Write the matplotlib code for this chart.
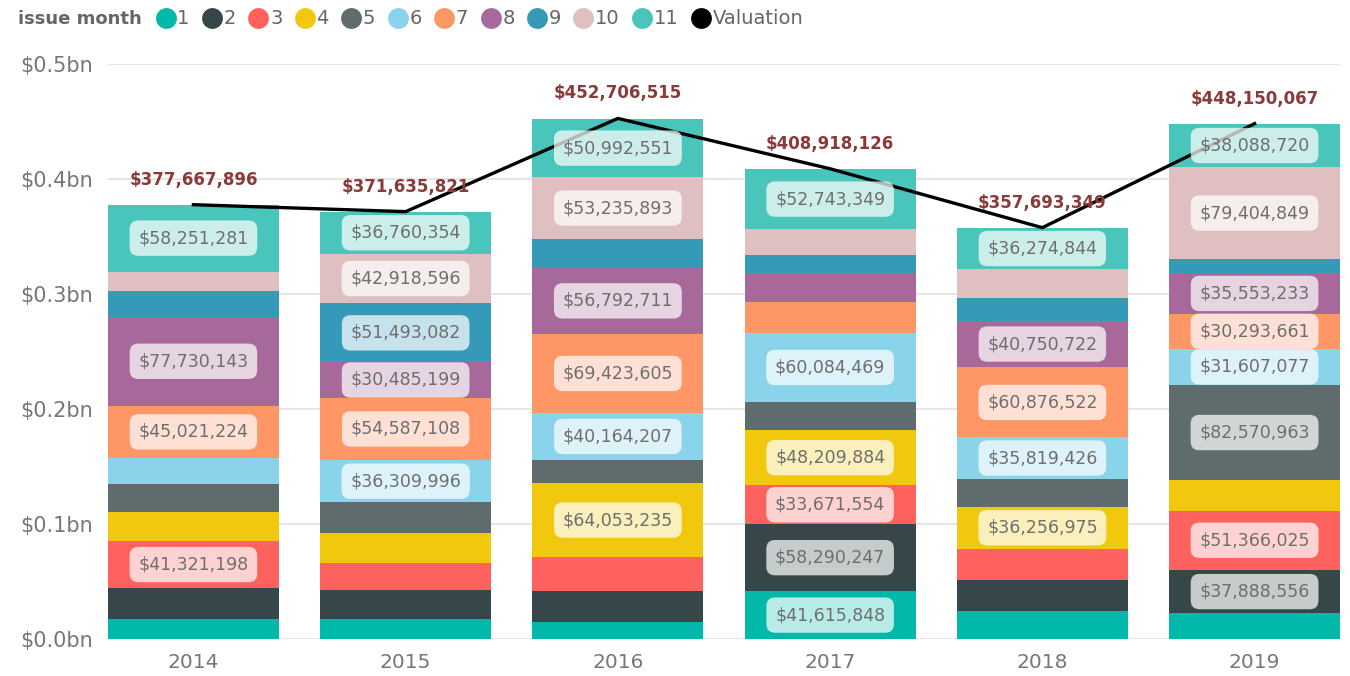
import numpy as np
import matplotlib.pyplot as plt
from matplotlib.lines import Line2D

# ── data ─────────────────────────────────────────────
years = ["2014", "2015", "2016", "2017", "2018", "2019"]
months = ["1", "2", "3", "4", "5", "6", "7", "8", "9", "10", "11"]

# value by issue month (rows) for each year (columns)
m1  = [17400000, 17400000, 14600000, 41615848, 24500000, 22300000]
m2  = [26700000, 25200000, 27200000, 58290247, 27200000, 37888556]
m3  = [41321198, 23500000, 29600000, 33671554, 26900000, 51366025]
m4  = [25200000, 26100000, 64053235, 48209884, 36256975, 26700000]
m5  = [24100000, 26900000, 20600000, 24300000, 24600000, 82570963]
m6  = [22900000, 36309996, 40164207, 60084469, 35819426, 31607077]
m7  = [45021224, 54587108, 69423605, 27000000, 60876522, 30293661]
m8  = [77730143, 30485199, 56792711, 25500000, 40750722, 35553233]
m9  = [22600000, 51493082, 25700000, 15000000, 19300000, 12400000]
m10 = [16500000, 42918596, 53235893, 22500000, 25200000, 79404849]
m11 = [58251281, 36760354, 50992551, 52743349, 36274844, 38088720]
valuation = [377667896, 371635821, 452706515, 408918126, 357693349, 448150067]

series = [m1, m2, m3, m4, m5, m6, m7, m8, m9, m10, m11]
colors = ["#01B8AA", "#374649", "#FD625E", "#F2C80F", "#5F6B6D", "#8AD4EB",
          "#FE9666", "#A66999", "#3599B8", "#DFBFBF", "#4AC5BB"]

# ── figure ───────────────────────────────────────────
fig = plt.figure(figsize=(13.5, 6.76), dpi=100)
ax = fig.add_axes([0.08, 0.0547, 0.9126, 0.8506])

x = np.arange(len(years))
width = 0.805
bottom = np.zeros(len(years))
for vals, col in zip(series, colors):
    vals = np.array(vals, dtype=float)
    ax.bar(x, vals, width, bottom=bottom, color=col, zorder=2)
    # data labels only on the bigger segments
    for xi, b, v in zip(x, bottom, vals):
        if v > 30e6:
            ax.text(xi, b + v / 2, f"${v:,.0f}", ha="center", va="center",
                    fontsize=12.5, color="#6e6e6e", zorder=5,
                    bbox=dict(boxstyle="round,pad=0.5,rounding_size=0.5",
                              facecolor="white", edgecolor="none", alpha=0.72))
    bottom += vals

# valuation line
ax.plot(x, valuation, color="black", linewidth=2.4, zorder=4)
for xi, v in zip(x, valuation):
    ax.annotate(f"${v:,.0f}", xy=(xi, v), xytext=(0, 18),
                textcoords="offset points", ha="center", va="center",
                fontsize=12, fontweight="bold", color="#8B3A3A", zorder=6)

ax.set_xlim(-width / 2, len(years) - 1 + width / 2)
ax.set_ylim(0, 0.5e9)
ax.set_yticks(np.arange(0, 0.51e9, 0.1e9))
ax.set_yticklabels([f"${t/1e9:.1f}bn" for t in np.arange(0, 0.51e9, 0.1e9)])
ax.set_xticks(x)
ax.set_xticklabels(years)
ax.tick_params(axis="both", length=0, labelcolor="#777777")
ax.tick_params(axis="y", pad=11, labelsize=15)
ax.tick_params(axis="x", pad=10, labelsize=14.5)
ax.grid(axis="y", color="#e6e6e6", linewidth=1.5, zorder=0)
ax.set_axisbelow(True)
for s in ax.spines.values():
    s.set_visible(False)

# ── legend ───────────────────────────────────────────
fig.text(0.013, 0.972, "issue month", fontsize=13, fontweight="bold",
         color="#666666", va="center", ha="left")
handles = [Line2D([0], [0], marker="o", linestyle="none", markersize=15,
                  markerfacecolor=c, markeredgecolor="none") for c in colors]
handles.append(Line2D([0], [0], marker="o", linestyle="none", markersize=15,
                      markerfacecolor="black", markeredgecolor="none"))
fig.legend(handles, months + ["Valuation"], loc="center left",
           bbox_to_anchor=(0.114, 0.972), ncol=12, frameon=False,
           handletextpad=0.0, columnspacing=0.55, handlelength=1.2,
           fontsize=14, labelcolor="#666666", borderpad=0, borderaxespad=0)

plt.savefig("out.png", dpi=100)
plt.close()
